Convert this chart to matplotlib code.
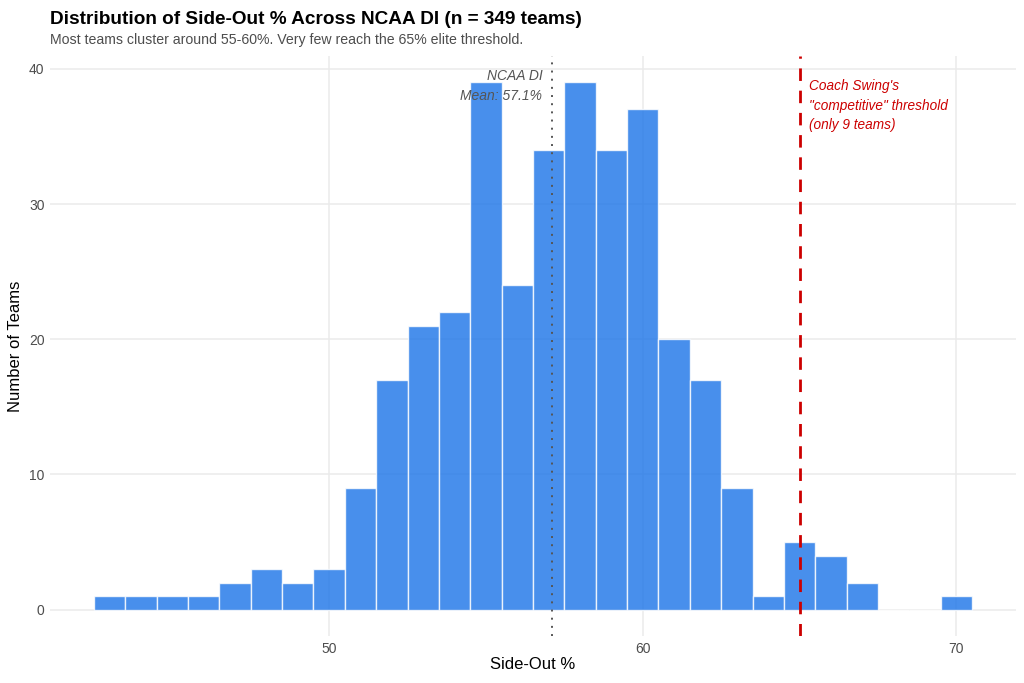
import numpy as np
import matplotlib.pyplot as plt

# histogram counts per 1-point bin (bin centres 43..70)
bin_centers = np.arange(43, 71)
counts = [1, 1, 1, 1, 2, 3, 2, 3, 9, 17, 21, 22, 39, 24, 34, 39,
          34, 37, 20, 17, 9, 1, 5, 4, 2, 0, 0, 1]
mean_so = 57.1
threshold = 65
x_ticks = [50, 60, 70]
y_ticks = [0, 10, 20, 30, 40]

plt.rcParams['font.family'] = ['Liberation Sans', 'DejaVu Sans']

fig = plt.figure(figsize=(10.24, 6.83), dpi=100)
ax = fig.add_axes([50 / 1024, 1 - 636 / 683, 966 / 1024, (636 - 56) / 683])

ax.bar(bin_centers, counts, width=1.0, color="#1a73e8", alpha=0.8,
       edgecolor="white", linewidth=1.0, zorder=2)

ax.axvline(mean_so, color="#555555", linestyle=(0, (1, 3.2)), linewidth=1.4, zorder=3)
ax.axvline(threshold, color="#cc0000", linestyle=(0, (4.5, 3.5)), linewidth=2.0, zorder=3)

ax.text(mean_so - 0.3, 40.0, "NCAA DI\nMean: 57.1%", ha="right", va="top",
        fontsize=10, style="italic", color="#555555", linespacing=1.6)
ax.text(threshold + 0.3, 39.23, "Coach Swing's\n\"competitive\" threshold\n(only 9 teams)",
        ha="left", va="top", fontsize=9.8, style="italic", color="#cc0000",
        linespacing=1.5)

lo, hi = 42.5, 70.5
pad = (hi - lo) * 0.05
ax.set_xlim(lo - pad, hi + pad)
ax.set_ylim(-39 * 0.05, 39 * 1.05)
ax.set_xticks(x_ticks)
ax.set_yticks(y_ticks)
ax.grid(True, color="#ebebeb", linewidth=1.1, zorder=0)
ax.set_axisbelow(True)
for s in ax.spines.values():
    s.set_visible(False)
ax.tick_params(length=0, labelsize=10, labelcolor="#4d4d4d", pad=4)

ax.set_xlabel("Side-Out %", fontsize=12, labelpad=1)
ax.set_ylabel("Number of Teams", fontsize=12, labelpad=4)

fig.text(50 / 1024, 1 - 19 / 683, "Distribution of Side-Out % Across NCAA DI (n = 349 teams)",
         fontsize=13.7, fontweight="bold", va="center", ha="left")
fig.text(50 / 1024, 1 - 40 / 683, "Most teams cluster around 55-60%. Very few reach the 65% elite threshold.",
         fontsize=10.2, color="#4d4d4d", va="center", ha="left")

fig.savefig("out.png", dpi=100, facecolor="white")
